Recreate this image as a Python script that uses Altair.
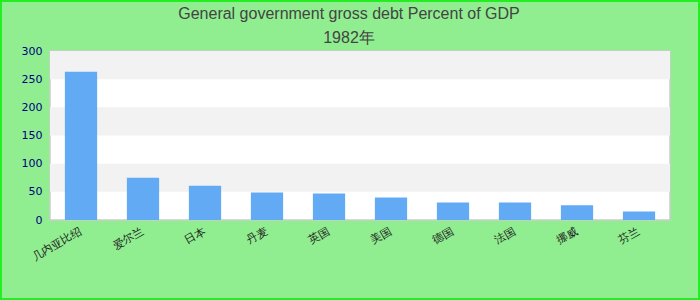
import altair as alt
import pandas as pd

countries = ["几内亚比绍", "爱尔兰", "日本", "丹麦", "英国", "美国", "德国", "法国", "挪威", "芬兰"]
debt = [263, 75, 61, 49, 47, 40, 31, 31, 26, 15]

band_start = [50, 150, 250]
band_end = [100, 200, 300]

df = pd.DataFrame({"country": countries, "debt": debt})
bands = pd.DataFrame({"y0": band_start, "y1": band_end})

yscale = alt.Scale(domain=[0, 300], nice=False)
yaxis = alt.Axis(values=[0, 50, 100, 150, 200, 250, 300], labelColor="#000080",
                 labelFont="DejaVu Sans", labelFontSize=11, labelPadding=8,
                 labelOverlap=False, ticks=False, domain=False, grid=False)

band_layer = alt.Chart(bands).mark_rect(color="#f2f2f2").encode(
    y=alt.Y("y0:Q", scale=yscale, title=None, axis=yaxis),
    y2="y1:Q",
    x=alt.value(0),
    x2=alt.value(620),
)

bars = alt.Chart(df).mark_bar(color="#63aaf5").encode(
    x=alt.X("country:N", sort=None, title=None,
            scale=alt.Scale(paddingInner=0.48, paddingOuter=0.24),
            axis=alt.Axis(labelAngle=-30, labelAlign="right", labelBaseline="middle",
                          labelColor="#222222", labelFontSize=11, labelPadding=10,
                          ticks=False, domain=False)),
    y=alt.Y("debt:Q", scale=yscale, title=None, axis=yaxis),
)

frame = alt.Chart(df).mark_rect(fill=None, stroke="#22ee22", strokeWidth=1.5, clip=False).encode(
    x=alt.value(-49.5), x2=alt.value(649.5), y=alt.value(-50.5), y2=alt.value(248.5)
)

chart = alt.layer(band_layer, bars, frame).properties(
    width=620,
    height=169,
    background="#90ee90",
    padding={"left": 50, "top": 51, "right": 30, "bottom": 80},
    autosize=alt.AutoSizeParams(type="none"),
    title=alt.TitleParams(
        text=["General government gross debt  Percent of GDP", "1982年"],
        font="Liberation Sans", fontSize=16, fontWeight="normal", color="#444444",
        lineHeight=24, anchor="middle", baseline="bottom", offset=6, dx=-11, dy=68,
    ),
).configure_view(stroke="#cccccc", strokeWidth=1.5, fill="white")

chart.save("out.html", embed_options={"renderer": "svg", "actions": False})
